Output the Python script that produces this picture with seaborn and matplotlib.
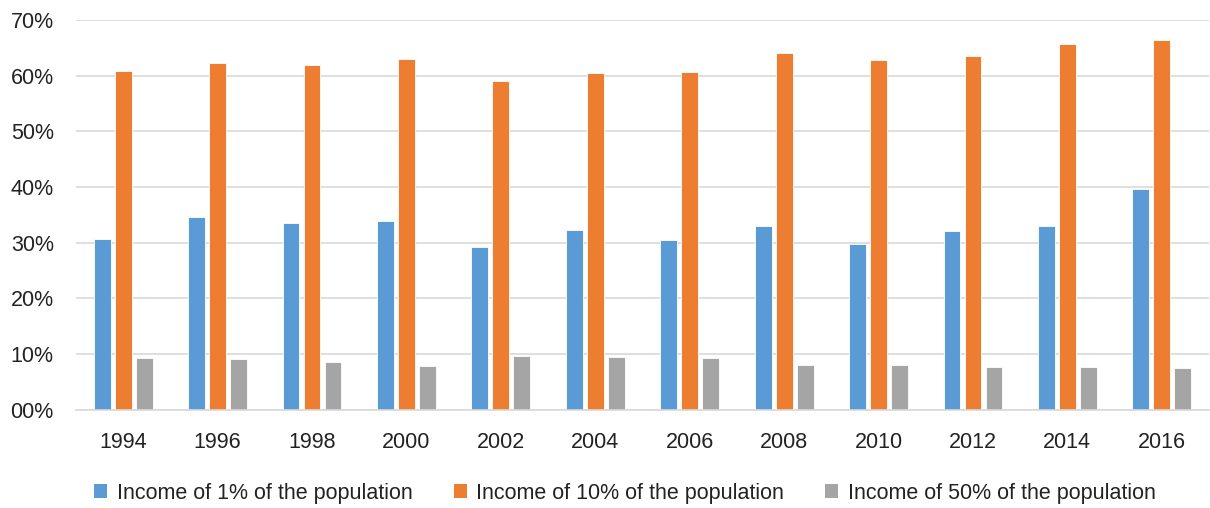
import pandas as pd
import matplotlib.pyplot as plt
import seaborn as sns
from matplotlib.patches import Patch

# Values (percent)
years = ['1994', '1996', '1998', '2000', '2002', '2004', '2006', '2008', '2010', '2012', '2014', '2016']
top1 = [30.7, 34.6, 33.6, 33.9, 29.2, 32.2, 30.5, 33.0, 29.7, 32.0, 33.0, 39.6]
top10 = [60.9, 62.2, 61.9, 63.0, 59.0, 60.5, 60.7, 64.0, 62.8, 63.6, 65.6, 66.4]
top50 = [9.2, 9.0, 8.6, 7.9, 9.6, 9.4, 9.3, 8.0, 8.0, 7.7, 7.6, 7.4]

series_names = ['Income of 1% of the population',
                'Income of 10% of the population',
                'Income of 50% of the population']
colors = ['#5B9BD5', '#ED7D31', '#A5A5A5']
y_ticks = [0, 10, 20, 30, 40, 50, 60, 70]
y_tick_labels = ['00%', '10%', '20%', '30%', '40%', '50%', '60%', '70%']

# long format for seaborn
df = pd.DataFrame({
    'year': years * 3,
    'value': top1 + top10 + top50,
    'series': [series_names[0]] * len(years) + [series_names[1]] * len(years) + [series_names[2]] * len(years),
})

sns.set_style('white')
plt.rcParams['font.family'] = ['Liberation Sans', 'DejaVu Sans']

fig = plt.figure(figsize=(12.1, 5.08), dpi=100)
ax = fig.add_axes([76 / 1210, 1 - 409.5 / 508, 1133 / 1210, 389.5 / 508])

sns.barplot(data=df, x='year', y='value', hue='series', order=years,
            hue_order=series_names, palette=colors, width=0.667, gap=0.2,
            saturation=1, edgecolor='white', linewidth=0.6, ax=ax, legend=False)

ax.set_xlim(-0.5, len(years) - 0.5)
ax.set_ylim(0, 70)
ax.set_yticks(y_ticks)
ax.set_yticklabels(y_tick_labels)
ax.set_xlabel('')
ax.set_ylabel('')
ax.grid(axis='y', color='#D9D9D9', linewidth=1.2)
ax.set_axisbelow(True)
for side in ['top', 'right', 'left']:
    ax.spines[side].set_visible(False)
ax.spines['bottom'].set_color('#D9D9D9')
ax.spines['bottom'].set_linewidth(1.2)
ax.tick_params(axis='x', length=0, pad=16, labelsize=15.5, labelcolor='#222222')
ax.tick_params(axis='y', length=0, pad=16, labelsize=15.5, labelcolor='#222222')

handles = [Patch(facecolor=c, edgecolor='none') for c in colors]
fig.legend(handles, series_names, loc='center', bbox_to_anchor=(625 / 1210, 1 - 493 / 508),
           ncol=3, frameon=False, fontsize=15.5, handlelength=0.6, handleheight=0.6,
           handletextpad=0.45, columnspacing=1.9, labelcolor='#222222')

plt.savefig('out.png', dpi=100)
